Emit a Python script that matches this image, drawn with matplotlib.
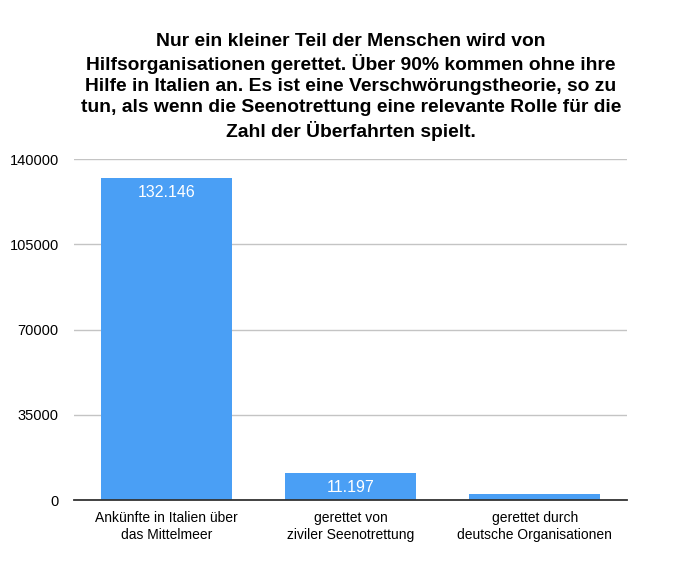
import matplotlib.pyplot as plt
import numpy as np

categories = ["Ankünfte in Italien über\ndas Mittelmeer",
              "gerettet von\nziviler Seenotrettung",
              "gerettet durch\ndeutsche Organisationen"]
values = [132146, 11197, 2500]
value_labels = ["132.146", "11.197", ""]
yticks = [0, 35000, 70000, 105000, 140000]

title = ("Nur ein kleiner Teil der Menschen wird von\n"
         "Hilfsorganisationen gerettet. Über 90% kommen ohne ihre\n"
         "Hilfe in Italien an. Es ist eine Verschwörungstheorie, so zu\n"
         "tun, als wenn die Seenotrettung eine relevante Rolle für die\n"
         "Zahl der Überfahrten spielt.")

plt.rcParams["font.family"] = ["Liberation Sans", "DejaVu Sans"]

fig = plt.figure(figsize=(6.8, 5.83), dpi=100)
ax = fig.add_axes([0.109, 0.142, 0.813, 0.585])

x = np.arange(len(categories))
bars = ax.bar(x, values, width=0.71, color="#4a9ff5", zorder=3)

for b, lab in zip(bars, value_labels):
    if lab:
        ax.text(b.get_x() + b.get_width() / 2, b.get_height() - 5800, lab,
                ha="center", va="center", color="white", fontsize=11.5, zorder=4)

ax.set_xlim(-0.5, 2.5)
ax.set_ylim(0, 140000)
ax.set_yticks(yticks)
ax.set_yticklabels([str(t) for t in yticks], fontsize=10.5)
ax.set_xticks(x)
ax.set_xticklabels(categories, fontsize=10, linespacing=1.25)
ax.tick_params(axis="both", length=0)
ax.tick_params(axis="y", pad=11)
ax.tick_params(axis="x", pad=8)
ax.grid(axis="y", color="#c4c4c4", linewidth=1, zorder=0)
for s in ["top", "right", "left"]:
    ax.spines[s].set_visible(False)
ax.spines["bottom"].set_color("#333333")
ax.spines["bottom"].set_linewidth(1.3)
ax.spines["bottom"].set_zorder(5)

fig.text(0.516, 0.944, title, ha="center", va="top", fontsize=13.9,
         fontweight="bold", linespacing=1.3)

fig.savefig("out.png", dpi=100)
